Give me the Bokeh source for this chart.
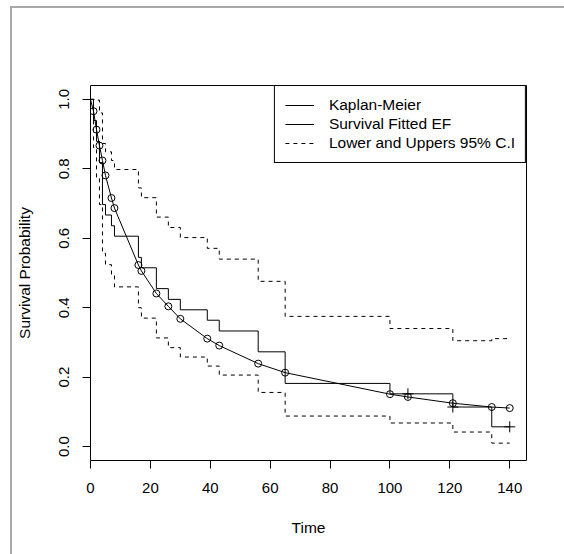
from bokeh.plotting import figure
from bokeh.models import (Range1d, FixedTicker, PrintfTickFormatter, Legend,
                          LegendItem, InlineStyleSheet)
from bokeh.embed import file_html
from bokeh.resources import INLINE

# ---- data ----
km_time = [0, 1, 2, 3, 4, 5, 7, 8, 16, 17, 22, 26, 30, 39, 43, 56, 65, 100, 121, 134, 140]
km_surv = [1.0, 0.939, 0.879, 0.818, 0.697, 0.667, 0.636, 0.606, 0.545, 0.515, 0.455,
           0.424, 0.394, 0.364, 0.333, 0.273, 0.182, 0.152, 0.114, 0.057, 0.057]
ci_upper = [1.0, 1.0, 0.998, 0.961, 0.873, 0.849, 0.824, 0.798, 0.745, 0.717, 0.661,
            0.631, 0.602, 0.571, 0.540, 0.476, 0.375, 0.340, 0.305, 0.311, 0.311]
ci_lower = [1.0, 0.861, 0.774, 0.697, 0.557, 0.524, 0.492, 0.460, 0.400, 0.370, 0.313,
            0.285, 0.258, 0.232, 0.206, 0.156, 0.088, 0.068, 0.042, 0.010, 0.010]

fit_time = [0, 1, 2, 3, 4, 5, 7, 8, 16, 17, 22, 26, 30, 39, 43, 56, 65, 100, 106, 121, 134, 140]
fit_surv = [1.0, 0.966, 0.913, 0.867, 0.824, 0.781, 0.716, 0.687, 0.523, 0.506, 0.441, 0.404,
            0.368, 0.311, 0.291, 0.239, 0.213, 0.151, 0.143, 0.125, 0.114, 0.111]

censor_time = [106, 121, 140]
censor_surv = [0.152, 0.114, 0.057]

x_ticks = [0, 20, 40, 60, 80, 100, 120, 140]
y_ticks = [0.0, 0.2, 0.4, 0.6, 0.8, 1.0]

legend_labels = ["Kaplan-Meier", "Survival Fitted EF", "Lower and Uppers 95% C.I"]

FONT = "Liberation Sans"

p = figure(width=564, height=554, output_backend="svg", toolbar_location=None,
           x_range=Range1d(0, 145.6), y_range=Range1d(-0.04, 1.04),
           min_border_left=90, min_border_right=38, min_border_top=85,
           min_border_bottom=94)
p.grid.visible = False
p.background_fill_color = "white"
p.border_fill_color = "white"
p.outline_line_color = "black"
p.outline_line_width = 1
p.outline_line_alpha = 1

for ax in (p.xaxis[0], p.yaxis[0]):
    ax.axis_line_color = None
    ax.major_tick_in = 0
    ax.major_tick_out = 8
    ax.minor_tick_in = 0
    ax.minor_tick_out = 0
    ax.major_tick_line_color = "black"
    ax.major_label_text_font = FONT
    ax.major_label_text_font_size = "15px"
    ax.major_label_text_color = "black"
    ax.axis_label_text_font = FONT
    ax.axis_label_text_font_size = "15.5px"
    ax.axis_label_text_font_style = "normal"
    ax.axis_label_text_color = "black"

p.xaxis.ticker = FixedTicker(ticks=x_ticks)
p.yaxis.ticker = FixedTicker(ticks=y_ticks)
p.yaxis.formatter = PrintfTickFormatter(format="%.1f")
p.yaxis.major_label_orientation = "parallel"
p.xaxis.major_label_standoff = 14
p.yaxis.major_label_standoff = 13
p.xaxis.axis_label = "Time"
p.yaxis.axis_label = "Survival Probability"
p.xaxis.axis_label_standoff = 23
p.yaxis.axis_label_standoff = 24

r_up = p.step(km_time, ci_upper, mode="after", line_color="black", line_width=1,
              line_dash="4 4")
p.step(km_time, ci_lower, mode="after", line_color="black", line_width=1,
       line_dash="4 4")
r_km = p.step(km_time, km_surv, mode="after", line_color="black", line_width=1)
r_fit = p.line(fit_time, fit_surv, line_color="black", line_width=1)
p.scatter(fit_time[1:], fit_surv[1:], marker="circle", size=7, fill_color=None,
          line_color="black", line_width=1)
p.scatter(censor_time, censor_surv, marker="cross", size=11, line_color="black",
          line_width=1)

legend = Legend(items=[LegendItem(label=legend_labels[0], renderers=[r_km]),
                       LegendItem(label=legend_labels[1], renderers=[r_fit]),
                       LegendItem(label=legend_labels[2], renderers=[r_up])],
                location="top_right", margin=0, padding=10, spacing=1,
                glyph_width=29, glyph_height=18, label_height=18,
                label_standoff=15, label_text_font=FONT,
                label_text_font_size="15.5px", label_text_color="black",
                border_line_color="black", border_line_width=1, border_line_alpha=1,
                background_fill_color="white", background_fill_alpha=1)
p.add_layout(legend)

# light grey page frame (left and top edges), as in the reference screenshot
p.stylesheets = [InlineStyleSheet(css=(
    ":host { position: relative; }"
    ":host::after { content: ''; position: absolute; left: 10px; top: 6px;"
    " right: 0; bottom: 0; border-left: 2px solid #a8a8a8;"
    " border-top: 2px solid #a8a8a8; pointer-events: none; }"))]

open("out.html", "w").write(file_html(p, INLINE))
